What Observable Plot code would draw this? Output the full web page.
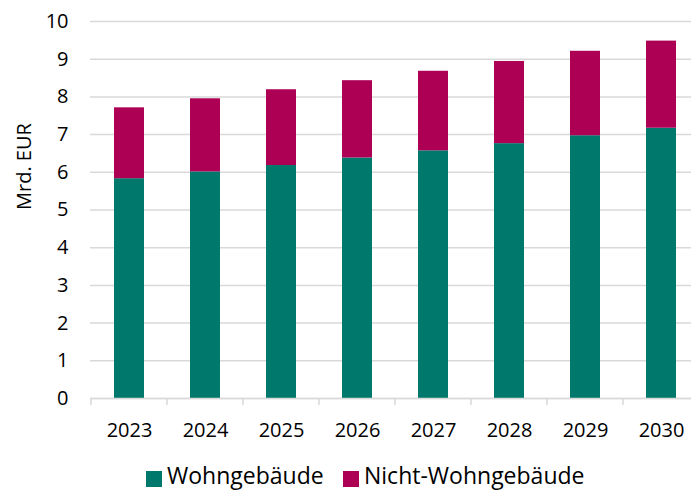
<!DOCTYPE html>
<html>
<head>
<meta charset="utf-8">
<script src="https://cdn.jsdelivr.net/npm/d3@7"></script>
<script src="https://cdn.jsdelivr.net/npm/@observablehq/plot@0.6"></script>
<style>
  html, body { margin: 0; padding: 0; background: #fff; }
  body { position: relative; width: 691px; height: 491px; overflow: hidden; font-family: "Open Sans", sans-serif; }
  #chart svg { display: block; }
  .legend-item { position: absolute; top: 464px; display: flex; align-items: flex-start; font-size: 23px; line-height: 23px; color: #000; white-space: nowrap; }
  .legend-swatch { width: 16px; height: 16px; margin-top: 7px; margin-right: 5px; }
</style>
</head>
<body>
<div id="chart"></div>
<div id="legend"></div>
<script>
const years = ["2023", "2024", "2025", "2026", "2027", "2028", "2029", "2030"];
const seriesNames = ["Wohngebäude", "Nicht-Wohngebäude"];
const wohngebaeude = [5.83, 6.01, 6.18, 6.38, 6.57, 6.76, 6.97, 7.17];
const nichtWohngebaeude = [1.88, 1.94, 2.01, 2.05, 2.11, 2.18, 2.24, 2.31];
const yTicks = [0, 1, 2, 3, 4, 5, 6, 7, 8, 9, 10];
const colors = ["#00786B", "#AD0055"];
const yLabel = "Mrd. EUR";

const table = [];
years.forEach((yr, i) => {
  table.push({year: yr, series: seriesNames[0], value: wohngebaeude[i]});
  table.push({year: yr, series: seriesNames[1], value: nichtWohngebaeude[i]});
});

function boundaryTicks(index, scales) {
  const x = scales.x, y = scales.y;
  const step = x(years[1]) - x(years[0]);
  const bw = typeof x.bandwidth === "function" ? x.bandwidth() : step * 0.4;
  const gap = (step - bw) / 2;
  const xs = years.map(yr => x(yr) - gap);
  xs.push(x(years[years.length - 1]) + bw + gap);
  const y0 = y(0);
  const g = d3.create("svg:g");
  for (const xv of xs) {
    g.append("line")
      .attr("x1", xv).attr("x2", xv)
      .attr("y1", y0).attr("y2", y0 + 7)
      .attr("stroke", "#d9d9d9")
      .attr("stroke-width", 1.5);
  }
  return g.node();
}

const chart = Plot.plot({
  width: 691,
  height: 460,
  marginLeft: 90,
  marginRight: 0,
  marginTop: 21,
  marginBottom: 62,
  style: {fontFamily: "Open Sans", fontSize: "20px", color: "#000", background: "#fff"},
  x: {type: "band", domain: years, range: [90, 700], paddingInner: 0.6, paddingOuter: 0.3},
  y: {domain: [0, 10]},
  color: {domain: seriesNames, range: colors},
  marks: [
    Plot.ruleY(yTicks, {stroke: "#d9d9d9", strokeWidth: 1.5}),
    Plot.barY(table, {x: "year", y: "value", fill: "series"}),
    Plot.ruleY([0], {stroke: "#d9d9d9", strokeWidth: 1.5}),
    boundaryTicks,
    Plot.axisY({ticks: yTicks, tickSize: 0, tickPadding: 22, label: null, fontSize: 20}),
    Plot.axisX({tickSize: 0, tickPadding: 24, label: null, fontSize: 20}),
    Plot.text([yLabel], {frameAnchor: "left", rotate: -90, dx: -66, fontSize: 20, fill: "#000"})
  ]
});
document.getElementById("chart").appendChild(chart);

const legend = document.getElementById("legend");
const lefts = [146, 343];
seriesNames.forEach((name, i) => {
  const item = document.createElement("div");
  item.className = "legend-item";
  item.style.left = lefts[i] + "px";
  const sw = document.createElement("span");
  sw.className = "legend-swatch";
  sw.style.background = colors[i];
  const tx = document.createElement("span");
  tx.textContent = name;
  item.appendChild(sw);
  item.appendChild(tx);
  legend.appendChild(item);
});
</script>
</body>
</html>
